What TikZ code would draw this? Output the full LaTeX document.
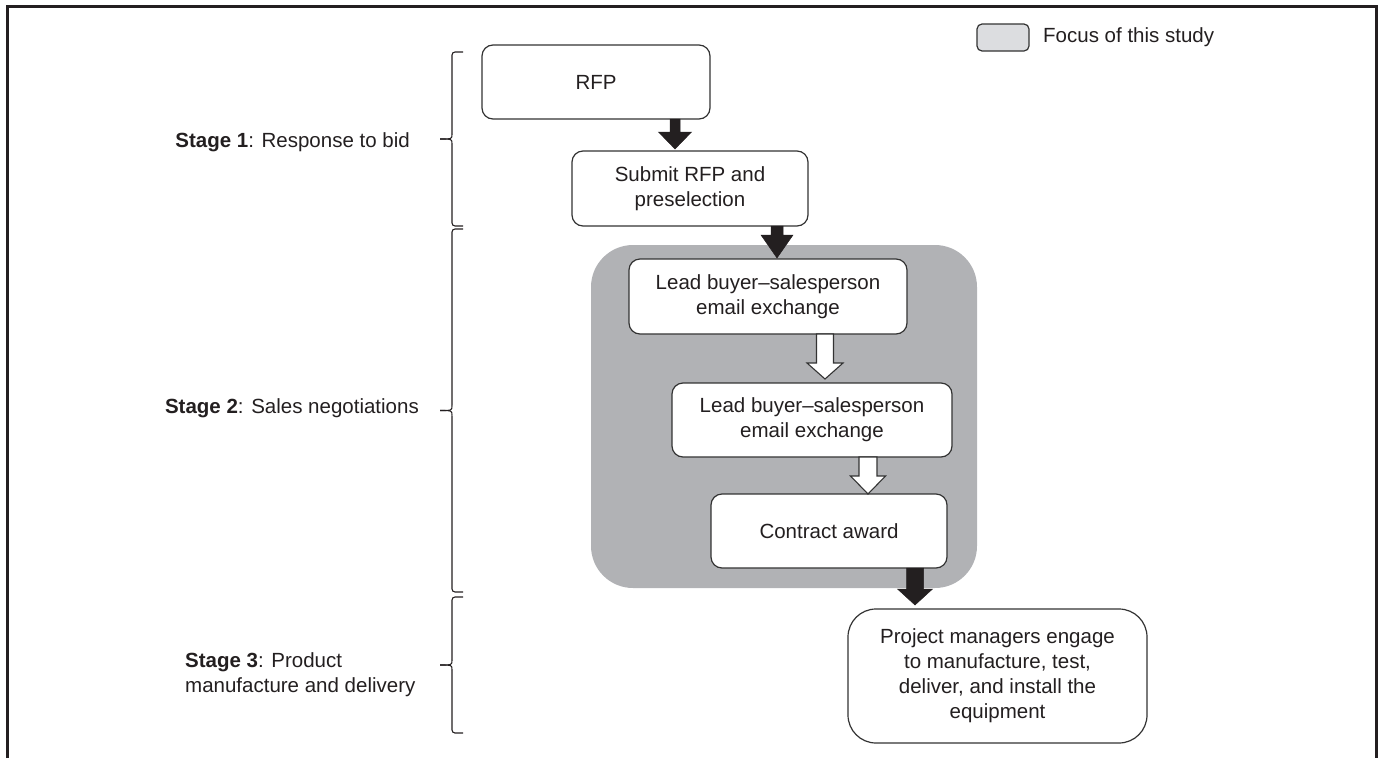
\documentclass[tikz,border=0pt]{standalone}
\usepackage{fontspec}
\setmainfont{Liberation Sans}
\usetikzlibrary{calc}
\definecolor{ink}{HTML}{231F20}
\definecolor{edge}{HTML}{333333}
\definecolor{focusgray}{HTML}{B1B2B5}
\definecolor{legendgray}{HTML}{DCDDE0}
\newcommand\blockarrow[6]{% from, to, shaft half, head half, head length, style
  \draw[#6] let \p1=(#1), \p2=(#2) in
    (\x1-#3pt,\y1) -- (\x1+#3pt,\y1) -- (\x1+#3pt,\y2+#5pt) -- (\x1+#4pt,\y2+#5pt)
    -- (\x1,\y2) -- (\x1-#4pt,\y2+#5pt) -- (\x1-#3pt,\y2+#5pt) -- cycle;}
\begin{document}
\begin{tikzpicture}[x=1pt,y=-1pt,
  every node/.style={font=\fontsize{20.5}{25}\selectfont, text=ink},
  flowbox/.style={draw=edge, line width=1.2pt, fill=white, rounded corners=11pt,
    align=center, inner sep=0pt, outer sep=0pt},
  blackarrow/.style={fill=ink, draw=ink, line width=0.5pt},
  whitearrow/.style={fill=white, draw=edge, line width=1.1pt},
  bracestyle/.style={draw=ink, line width=1.1pt}]
\useasboundingbox (0,0) rectangle (1379,758);
% frame
\draw[line width=3pt, ink] (7,758) -- (7,6) -- (1376,6) -- (1376,758);
% legend
\node[draw=edge, line width=1.2pt, fill=legendgray, rounded corners=5pt,
  minimum width=52pt, minimum height=27pt, inner sep=0pt] (legendbox) at (1003,37.5) {};
\node[anchor=west, inner sep=0pt] (legendtext) at (1043,37.5) {Focus of this study};
% focus region
\node[fill=focusgray, rounded corners=42pt, minimum width=386pt, minimum height=343pt,
  inner sep=0pt] (focus) at (784,416.5) {};
% boxes
\node[flowbox, minimum width=228pt, minimum height=74pt] (rfp) at (596,82) {RFP};
\node[flowbox, minimum width=236pt, minimum height=75pt] (submit) at (690,188.5) {Submit RFP and\\preselection};
\node[flowbox, minimum width=278pt, minimum height=75pt] (lead1) at (768,296.5) {Lead buyer--salesperson\\email exchange};
\node[flowbox, minimum width=280pt, minimum height=74pt] (lead2) at (812,420) {Lead buyer--salesperson\\email exchange};
\node[flowbox, minimum width=236pt, minimum height=74pt] (contract) at (829,531) {Contract award};
\node[flowbox, rounded corners=28pt, minimum width=299pt, minimum height=134pt] (project) at (997.5,676)
  {Project managers engage\\to manufacture, test,\\deliver, and install the\\equipment};
% arrow x positions
\coordinate (xa) at (675,0);
\coordinate (xb) at (777,0);
\coordinate (xc) at (825,0);
\coordinate (xd) at (868,0);
\coordinate (xe) at (915,0);
\blockarrow{rfp.south -| xa}{$(submit.north -| xa)+(0,-2)$}{5}{16.5}{17}{blackarrow}
\blockarrow{submit.south -| xb}{$(lead1.north -| xb)+(0,-1)$}{6}{16}{23}{blackarrow}
\blockarrow{lead1.south -| xc}{$(lead2.north -| xc)+(0,-4)$}{8.5}{18}{16}{whitearrow}
\blockarrow{lead2.south -| xd}{contract.north -| xd}{9}{17.5}{18}{whitearrow}
\blockarrow{contract.south -| xe}{$(project.north -| xe)+(0,-4)$}{8.5}{17.5}{16}{blackarrow}
% stage labels
\node[anchor=east, inner sep=0pt] (stage1) at (410,142) {\textbf{Stage 1}: Response to bid};
\node[anchor=east, inner sep=0pt] (stage2) at (419,408) {\textbf{Stage 2}: Sales negotiations};
\node[anchor=west, inner sep=0pt, align=left] (stage3) at (185,674.5) {\textbf{Stage 3}: Product\\manufacture and delivery};
% braces
\foreach \top/\bot in {52/226, 229/592, 597/733}{
  \pgfmathsetmacro\mid{(\top+\bot)/2}
  \draw[bracestyle, rounded corners=3pt] (463,\top) -- (452,\top) -- (452,\mid-5);
  \draw[bracestyle] (452,\mid-5) .. controls (452,\mid) .. (440,\mid);
  \draw[bracestyle] (440,\mid) .. controls (452,\mid) .. (452,\mid+5);
  \draw[bracestyle, rounded corners=3pt] (452,\mid+5) -- (452,\bot) -- (463,\bot);
}
\end{tikzpicture}
\end{document}
